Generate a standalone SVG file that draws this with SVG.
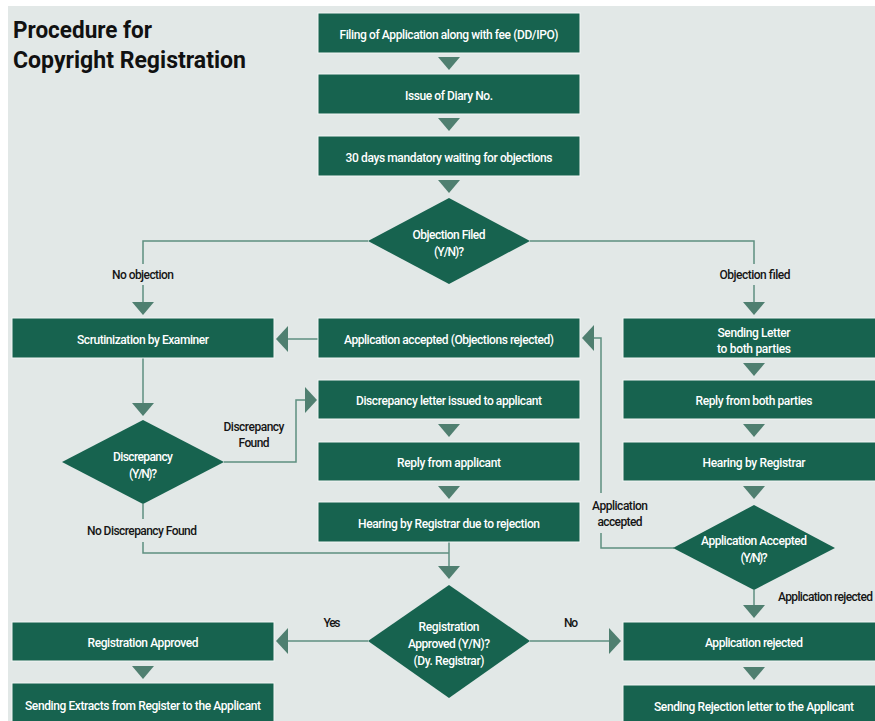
<svg xmlns="http://www.w3.org/2000/svg" xmlns:xlink="http://www.w3.org/1999/xlink" width="875" height="721" viewBox="0 0 875 721">
<defs>
<style>
.bg{fill:#e2e8e7}
.box{fill:#17634f;stroke:#f2f6f5;stroke-width:1}
.dia{fill:#17634f}
.tri{fill:#4f7f70}
.ln{fill:none;stroke:#5e8f80;stroke-width:1.5}
.bt{fill:#ffffff;font-family:Roboto,"Liberation Sans",sans-serif;font-size:12px;font-weight:500;text-anchor:middle}
.lb{fill:#151515;font-family:Roboto,"Liberation Sans",sans-serif;font-size:12px;font-weight:500}
.title{fill:#111111;font-family:Roboto,"Liberation Sans",sans-serif;font-size:23px;font-weight:bold}
</style>
<path id="td" class="tri" d="M-11,0 L11,0 L0,13 Z"/>
<path id="tl" class="tri" d="M0,0 L12,-13 L12,13 Z"/>
<path id="tr" class="tri" d="M0,0 L-12,-13 L-12,13 Z"/>
</defs>
<rect x="0" y="0" width="875" height="721" fill="#ffffff"/>
<rect class="bg" x="8" y="6" width="867" height="715"/>

<g id="title">
<text class="title" x="13" y="38" textLength="139" lengthAdjust="spacingAndGlyphs">Procedure for</text>
<text class="title" x="13" y="68" textLength="233" lengthAdjust="spacingAndGlyphs">Copyright Registration</text>
</g>

<g id="connectors">
<path class="ln" d="M368,241 H143 V264"/>
<path class="ln" d="M143,285 V302"/>
<path class="ln" d="M530,241 H754 V264"/>
<path class="ln" d="M754,285 V302"/>
<path class="ln" d="M318,339 H288"/>
<path class="ln" d="M143,358 V403"/>
<path class="ln" d="M224,462 H296 V400 H305"/>
<path class="ln" d="M143,504 V519"/>
<path class="ln" d="M143,542 V553 H449"/>
<path class="ln" d="M449,542 V566"/>
<path class="ln" d="M674,548 H601 V533"/>
<path class="ln" d="M601,493 V338 H594"/>
<path class="ln" d="M754,590 V605"/>
<path class="ln" d="M368,641 H288"/>
<path class="ln" d="M530,641 H609"/>
<use href="#td" x="449" y="57"/>
<use href="#td" x="449" y="118"/>
<use href="#td" x="449" y="180"/>
<use href="#td" x="143" y="302"/>
<use href="#td" x="754" y="302"/>
<use href="#td" x="143" y="403"/>
<use href="#td" x="449" y="424"/>
<use href="#td" x="449" y="486"/>
<use href="#td" x="754" y="363"/>
<use href="#td" x="754" y="424"/>
<use href="#td" x="754" y="486"/>
<use href="#td" x="449" y="566"/>
<use href="#td" x="754" y="605"/>
<use href="#td" x="143" y="666"/>
<use href="#td" x="754" y="667"/>
<use href="#tl" x="276" y="339"/>
<use href="#tl" x="582" y="338"/>
<use href="#tl" x="276" y="641"/>
<use href="#tr" x="317" y="400"/>
<use href="#tr" x="621" y="641"/>
</g>

<g id="labels">
<text class="lb" x="143" y="279" text-anchor="middle" textLength="62">No objection</text>
<text class="lb" x="755" y="279" text-anchor="middle" textLength="71">Objection filed</text>
<text class="lb" x="254" y="431" text-anchor="middle" textLength="61">Discrepancy</text>
<text class="lb" x="254" y="447" text-anchor="middle" textLength="31">Found</text>
<text class="lb" x="142" y="535" text-anchor="middle" textLength="110">No Discrepancy Found</text>
<text class="lb" x="620" y="510" text-anchor="middle" textLength="56">Application</text>
<text class="lb" x="620" y="526" text-anchor="middle" textLength="45">accepted</text>
<text class="lb" x="778" y="601" textLength="95">Application rejected</text>
<text class="lb" x="332" y="627" text-anchor="middle" textLength="17">Yes</text>
<text class="lb" x="571" y="627" text-anchor="middle" textLength="14">No</text>
</g>

<g id="n-filing">
<rect class="box" x="318" y="13" width="262" height="40"/>
<text class="bt" x="449" y="39" textLength="219">Filing of Application along with fee (DD/IPO)</text>
</g>
<g id="n-diary">
<rect class="box" x="318" y="74" width="262" height="40"/>
<text class="bt" x="449" y="100" textLength="88">Issue of Diary No.</text>
</g>
<g id="n-waiting">
<rect class="box" x="318" y="136" width="262" height="40"/>
<text class="bt" x="449" y="162" textLength="207">30 days mandatory waiting for objections</text>
</g>
<g id="n-objection">
<polygon class="dia" points="449,198 530,241 449,284 368,241"/>
<text class="bt" x="449" y="239" textLength="73">Objection Filed</text>
<text class="bt" x="449" y="256" textLength="30">(Y/N)?</text>
</g>
<g id="n-scrutiny">
<rect class="box" x="12" y="318" width="262" height="40"/>
<text class="bt" x="143" y="344" textLength="132">Scrutinization by Examiner</text>
</g>
<g id="n-accepted">
<rect class="box" x="318" y="318" width="262" height="40"/>
<text class="bt" x="449" y="344" textLength="210">Application accepted (Objections rejected)</text>
</g>
<g id="n-sending-letter">
<rect class="box" x="623" y="318" width="262" height="40"/>
<text class="bt" x="754" y="337" textLength="73">Sending Letter</text>
<text class="bt" x="754" y="353" textLength="74">to both parties</text>
</g>
<g id="n-disc-letter">
<rect class="box" x="318" y="380" width="262" height="39"/>
<text class="bt" x="449" y="405" textLength="186">Discrepancy letter issued to applicant</text>
</g>
<g id="n-reply-both">
<rect class="box" x="623" y="380" width="262" height="39"/>
<text class="bt" x="754" y="405" textLength="117">Reply from both parties</text>
</g>
<g id="n-discrepancy">
<polygon class="dia" points="143,420 224,462 143,504 62,462"/>
<text class="bt" x="143" y="461" textLength="60">Discrepancy</text>
<text class="bt" x="143" y="478" textLength="28">(Y/N)?</text>
</g>
<g id="n-reply-applicant">
<rect class="box" x="318" y="442" width="262" height="39"/>
<text class="bt" x="449" y="467" textLength="104">Reply from applicant</text>
</g>
<g id="n-hearing">
<rect class="box" x="623" y="442" width="262" height="39"/>
<text class="bt" x="754" y="467" textLength="103">Hearing by Registrar</text>
</g>
<g id="n-hearing-rejection">
<rect class="box" x="318" y="502" width="262" height="40"/>
<text class="bt" x="449" y="528" textLength="182">Hearing by Registrar due to rejection</text>
</g>
<g id="n-app-accepted-q">
<polygon class="dia" points="754,505 835,548 754,590 673,548"/>
<text class="bt" x="754" y="545" textLength="106">Application Accepted</text>
<text class="bt" x="754" y="562" textLength="27">(Y/N)?</text>
</g>
<g id="n-reg-q">
<polygon class="dia" points="449,585 530,641 449,698 368,641"/>
<text class="bt" x="449" y="631" textLength="61">Registration</text>
<text class="bt" x="449" y="648" textLength="82">Approved (Y/N)?</text>
<text class="bt" x="449" y="665" textLength="71">(Dy. Registrar)</text>
</g>
<g id="n-reg-approved">
<rect class="box" x="12" y="622" width="262" height="39"/>
<text class="bt" x="143" y="647" textLength="111">Registration Approved</text>
</g>
<g id="n-app-rejected">
<rect class="box" x="623" y="622" width="262" height="39"/>
<text class="bt" x="754" y="647" textLength="98">Application rejected</text>
</g>
<g id="n-extracts">
<rect class="box" x="12" y="683" width="262" height="45"/>
<text class="bt" x="143" y="710" textLength="236">Sending Extracts from Register to the Applicant</text>
</g>
<g id="n-rejection-letter">
<rect class="box" x="623" y="685" width="262" height="45"/>
<text class="bt" x="754" y="711" textLength="200">Sending Rejection letter to the Applicant</text>
</g>
</svg>
